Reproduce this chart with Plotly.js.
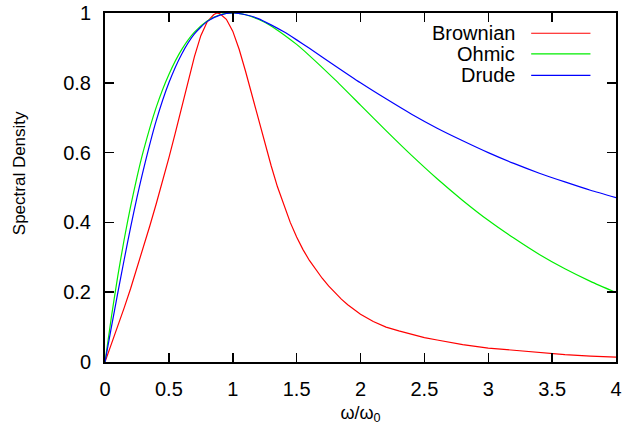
<!DOCTYPE html>
<html>
<head>
<meta charset="utf-8">
<script src="https://cdn.plot.ly/plotly-3.0.1.min.js"></script>
<style>html,body{margin:0;padding:0;background:#fff;}#chart{width:626px;height:432px;}</style>
</head>
<body>
<div id="chart"></div>
<script>
// ---- data ----
const brownianX = [0, 0.05, 0.1, 0.15, 0.2, 0.25, 0.3, 0.35, 0.4, 0.45, 0.5, 0.55, 0.6, 0.65, 0.7, 0.75, 0.8, 0.85, 0.875, 0.9, 0.95, 1.0, 1.05, 1.1, 1.15, 1.2, 1.25, 1.3, 1.35, 1.4, 1.45, 1.5, 1.55, 1.6, 1.65, 1.7, 1.75, 1.8, 1.85, 1.9, 1.95, 2.0, 2.1, 2.2, 2.3, 2.4, 2.5, 2.6, 2.8, 3.0, 3.2, 3.4, 3.6, 3.8, 4.0];
const brownianY = [0, 0.05, 0.101, 0.155, 0.21, 0.268, 0.328, 0.389, 0.452, 0.517, 0.585, 0.656, 0.73, 0.805, 0.875, 0.935, 0.975, 0.995, 1.0, 0.998, 0.982, 0.948, 0.896, 0.833, 0.765, 0.696, 0.628, 0.563, 0.502, 0.448, 0.4, 0.358, 0.322, 0.291, 0.264, 0.24, 0.218, 0.198, 0.18, 0.164, 0.15, 0.137, 0.116, 0.1, 0.089, 0.079, 0.07, 0.063, 0.05, 0.04, 0.033, 0.026, 0.021, 0.017, 0.014];

const ohmicX = [0, 0.05, 0.1, 0.15, 0.2, 0.25, 0.3, 0.4, 0.5, 0.6, 0.7, 0.8, 0.9, 1.0, 1.1, 1.2, 1.3, 1.4, 1.5, 1.6, 1.8, 2.0, 2.2, 2.4, 2.6, 2.8, 3.0, 3.2, 3.4, 3.6, 3.8, 4.0];
const ohmicY = [0, 0.129, 0.246, 0.351, 0.445, 0.529, 0.604, 0.729, 0.824, 0.895, 0.945, 0.977, 0.995, 1.0, 0.995, 0.982, 0.963, 0.938, 0.91, 0.878, 0.809, 0.736, 0.663, 0.592, 0.525, 0.463, 0.406, 0.355, 0.308, 0.267, 0.231, 0.199];

const drudeX = [0, 0.05, 0.1, 0.15, 0.2, 0.25, 0.3, 0.4, 0.5, 0.6, 0.7, 0.8, 0.9, 1.0, 1.1, 1.2, 1.3, 1.4, 1.5, 1.6, 1.8, 2.0, 2.2, 2.4, 2.6, 2.8, 3.0, 3.2, 3.4, 3.6, 3.8, 4.0];
const drudeY = [0, 0.0998, 0.198, 0.293, 0.385, 0.471, 0.55, 0.69, 0.8, 0.882, 0.94, 0.976, 0.994, 1.0, 0.995, 0.984, 0.966, 0.946, 0.923, 0.899, 0.849, 0.8, 0.754, 0.71, 0.67, 0.634, 0.6, 0.569, 0.541, 0.516, 0.492, 0.471];

const seriesNames = ["Brownian", "Ohmic", "Drude"];
const seriesColors = ["#ff0000", "#00ee00", "#0000ff"];
const seriesShapes = ["linear", "spline", "spline"];
const xTickVals = [0, 0.5, 1, 1.5, 2, 2.5, 3, 3.5, 4];
const xTickText = ["0", "0.5", "1", "1.5", "2", "2.5", "3", "3.5", "4"];
const yTickVals = [0, 0.2, 0.4, 0.6, 0.8, 1];
const yTickText = ["0", "0.2", "0.4", "0.6", "0.8", "1"];

const FONT = "Liberation Sans, Arial, sans-serif";
const xs = [brownianX, ohmicX, drudeX];
const ys = [brownianY, ohmicY, drudeY];

const traces = seriesNames.map((n, i) => ({
  x: xs[i], y: ys[i], name: n, type: "scatter", mode: "lines",
  line: {color: seriesColors[i], width: 1.2, shape: seriesShapes[i], smoothing: 0.6},
  showlegend: false, hoverinfo: "skip"
}));

// gnuplot-style key (text on the left, sample line on the right)
const legRowsY = [0.942, 0.883, 0.821];
const annotations = seriesNames.map((n, i) => ({
  xref: "paper", yref: "paper", x: 0.806, y: legRowsY[i], xanchor: "right", yanchor: "middle",
  text: n, showarrow: false, font: {family: FONT, size: 20, color: "#000"}
}));
const shapes = seriesNames.map((n, i) => ({
  type: "line", xref: "paper", yref: "paper", x0: 0.834, x1: 0.95, y0: legRowsY[i], y1: legRowsY[i],
  line: {color: seriesColors[i], width: 1.2}
}));

const axisCommon = {
  showgrid: false, zeroline: false, showline: true, linecolor: "#000", linewidth: 2,
  mirror: "ticks", ticks: "inside", ticklen: 9, tickwidth: 1.5, tickcolor: "#000",
  tickfont: {family: FONT, size: 20, color: "#000"}
};

const layout = {
  width: 626, height: 432,
  margin: {l: 105, r: 10, t: 13, b: 70, pad: 0},
  paper_bgcolor: "#fff", plot_bgcolor: "#fff",
  xaxis: Object.assign({}, axisCommon, {
    range: [0, 4], tickvals: xTickVals, ticktext: xTickText, ticklabelstandoff: 8,
    title: {text: "ω/ω<sub>0</sub>", font: {family: FONT, size: 18, color: "#000"}, standoff: 7}
  }),
  yaxis: Object.assign({}, axisCommon, {
    range: [0, 1], tickvals: yTickVals, ticktext: yTickText, ticklabelstandoff: 8,
    title: {text: "&nbsp;&nbsp;&nbsp;&nbsp;&nbsp;&nbsp;Spectral Density", font: {family: FONT, size: 17, color: "#000"}, standoff: 33}
  }),
  annotations: annotations, shapes: shapes, showlegend: false
};

Plotly.newPlot("chart", traces, layout, {staticPlot: true, displayModeBar: false});
</script>
</body>
</html>
